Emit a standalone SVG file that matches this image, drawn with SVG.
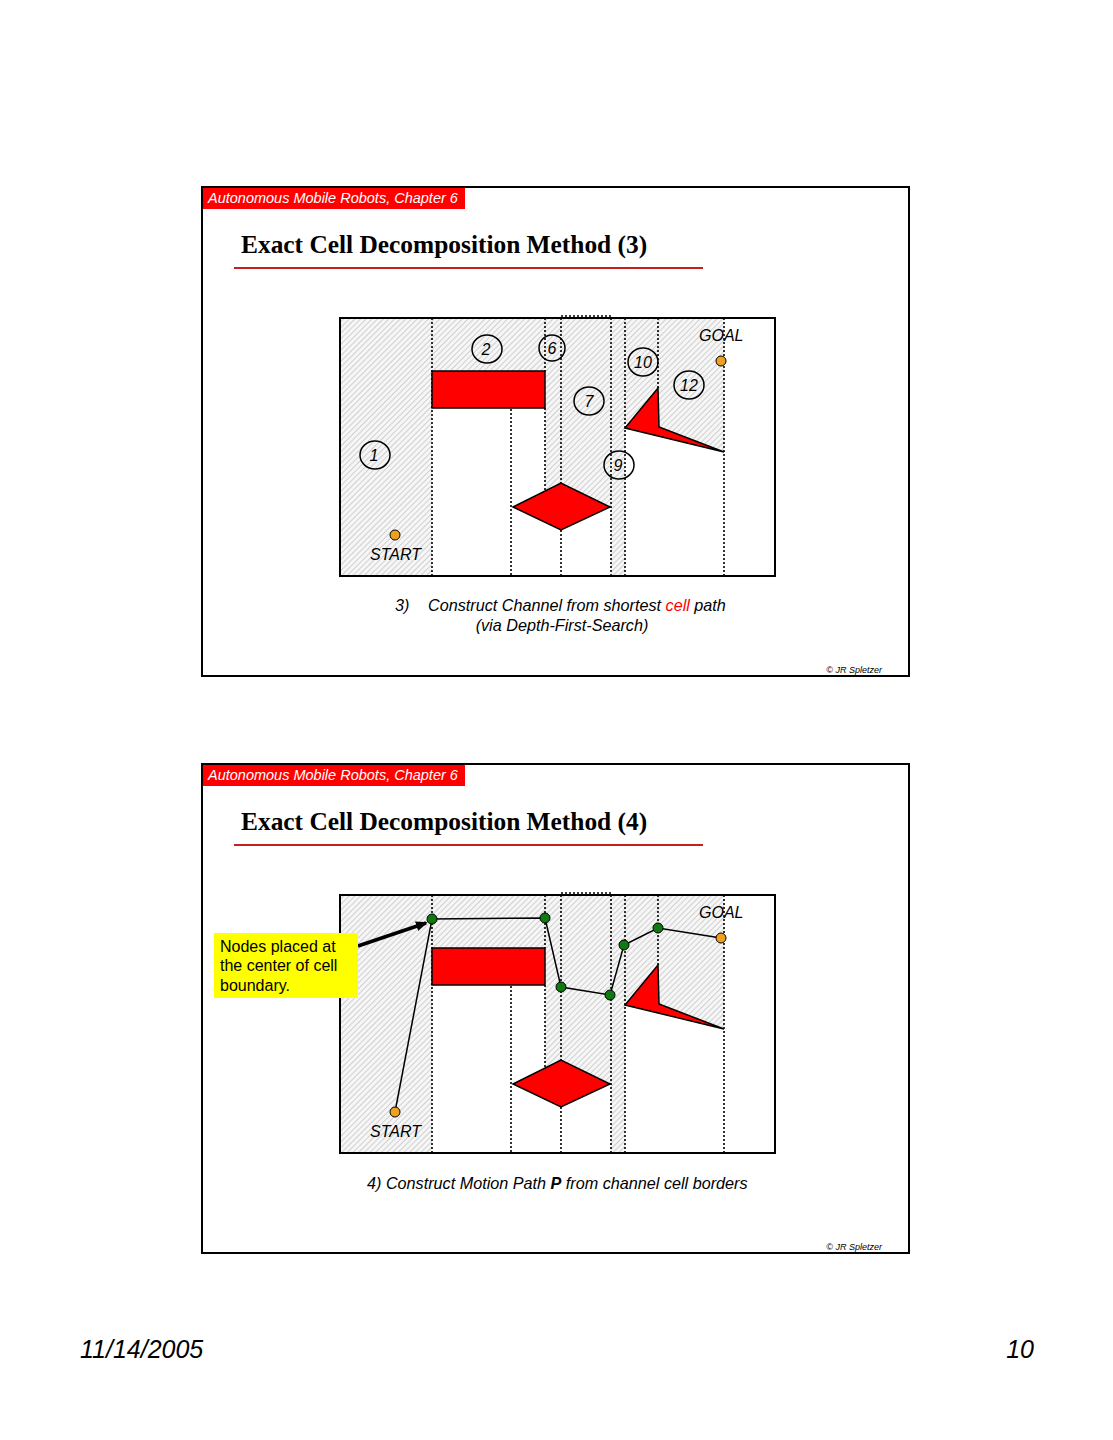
<svg xmlns="http://www.w3.org/2000/svg" xmlns:xlink="http://www.w3.org/1999/xlink" width="1113" height="1440" viewBox="0 0 1113 1440">
<style>
.frame{fill:none;stroke:#000;stroke-width:2}
.hdr{fill:#ff0000}
.hdrt{font-family:"Liberation Sans",Arial,sans-serif;font-style:italic;font-size:14.5px;fill:#fff}
.title{font-family:"Liberation Serif","Times New Roman",serif;font-weight:bold;font-size:25.4px;fill:#000}
.uline{stroke:#c41e1e;stroke-width:2}
.cap{font-family:"Liberation Sans",Arial,sans-serif;font-style:italic;font-size:16.2px;fill:#000}
.copy{font-family:"Liberation Sans",Arial,sans-serif;font-style:italic;font-size:9px;fill:#000}
.hatch{fill:url(#hatch)}
.dot{stroke:#000;stroke-width:1.6;stroke-dasharray:2 2;fill:none}
.obs{fill:#ff0000;stroke:#000;stroke-width:1.5;stroke-linejoin:miter}
.cframe{fill:none;stroke:#000;stroke-width:2}
.lbl{font-family:"Liberation Sans",Arial,sans-serif;font-style:italic;font-size:16px;fill:#000}
.cell{fill:none;stroke:#000;stroke-width:1.5}
.cn{font-family:"Liberation Sans",Arial,sans-serif;font-style:italic;font-size:16px;fill:#000;text-anchor:middle}
.end{fill:#f0a020;stroke:#000;stroke-width:1}
.node{fill:#107a10;stroke:#000;stroke-width:1}
.path{fill:none;stroke:#000;stroke-width:1.5}
.note{font-family:"Liberation Sans",Arial,sans-serif;font-size:16px;fill:#000}
.foot{font-family:"Liberation Sans",Arial,sans-serif;font-style:italic;font-size:25px;fill:#000}
</style>
<defs>
<pattern id="hatch" patternUnits="userSpaceOnUse" width="4" height="4" patternTransform="rotate(45)">
<rect width="4" height="4" fill="#f6f6f6"/>
<line x1="0" y1="0" x2="0" y2="4" stroke="#b0b0b0" stroke-width="1.1"/>
</pattern>
<marker id="arr" markerWidth="12" markerHeight="10" refX="10" refY="5" orient="auto" markerUnits="userSpaceOnUse" viewBox="0 0 12 10">
<path d="M0,0 L12,5 L0,10 z" fill="#000"/>
</marker>
<g id="decomp">
<rect x="340" y="318" width="435" height="258" fill="#fff"/>
<rect class="hatch" x="340" y="318" width="92" height="258"/>
<rect class="hatch" x="432" y="318" width="113" height="53"/>
<polygon class="hatch" points="545,318 611,318 611,507 561,483 545,491"/>
<rect class="hatch" x="611" y="318" width="14" height="258"/>
<polygon class="hatch" points="625,318 724,318 724,452 659,427 658,388 625,428"/>
<g class="dot">
<line x1="432" y1="318" x2="432" y2="576"/>
<line x1="511" y1="409" x2="511" y2="576"/>
<line x1="545" y1="318" x2="545" y2="371"/>
<line x1="545" y1="408" x2="545" y2="491"/>
<line x1="561" y1="318" x2="561" y2="483"/>
<line x1="561" y1="530" x2="561" y2="576"/>
<line x1="611" y1="318" x2="611" y2="576"/>
<line x1="625" y1="318" x2="625" y2="576"/>
<line x1="658" y1="318" x2="658" y2="388"/>
<line x1="724" y1="318" x2="724" y2="576"/>
<line x1="561" y1="316" x2="612" y2="316"/>
</g>
<rect class="obs" x="432" y="371" width="113" height="37"/>
<polygon class="obs" points="513,507 561,483 610,507 561,530"/>
<polygon class="obs" points="658,388 659,427 724,452 625,428"/>
<rect class="cframe" x="340" y="318" width="435" height="258"/>
<text class="lbl" x="370" y="560">START</text>
<text class="lbl" x="699" y="341">GOAL</text>
</g>
</defs>

<g id="slide3">
<rect class="hdr" x="202" y="187" width="263" height="22"/>
<text class="hdrt" x="208" y="203">Autonomous Mobile Robots, Chapter 6</text>
<text class="title" x="241" y="253">Exact Cell Decomposition Method (3)</text>
<line class="uline" x1="234" y1="268" x2="703" y2="268"/>
<use xlink:href="#decomp"/>
<g id="cells3">
<g id="c1"><ellipse class="cell" cx="375" cy="455" rx="15" ry="14"/><text class="cn" x="374" y="461">1</text></g>
<g id="c2"><ellipse class="cell" cx="487" cy="349" rx="15" ry="14"/><text class="cn" x="486" y="355">2</text></g>
<g id="c6"><ellipse class="cell" cx="552" cy="348" rx="13" ry="13"/><text class="cn" x="552" y="354">6</text></g>
<g id="c7"><ellipse class="cell" cx="589" cy="401" rx="15" ry="14"/><text class="cn" x="589" y="407">7</text></g>
<g id="c9"><ellipse class="cell" cx="619" cy="465" rx="15" ry="14"/><text class="cn" x="618" y="471">9</text></g>
<g id="c10"><ellipse class="cell" cx="643" cy="362" rx="15" ry="14"/><text class="cn" x="643" y="368">10</text></g>
<g id="c12"><ellipse class="cell" cx="689" cy="385" rx="15" ry="14"/><text class="cn" x="689" y="391">12</text></g>
</g>
<circle id="start3" class="end" cx="395" cy="535" r="5"/>
<circle id="goal3" class="end" cx="721" cy="361" r="5"/>
<text class="cap" x="395" y="611">3)</text>
<text class="cap" x="428" y="611">Construct Channel from shortest <tspan fill="#ff0000">cell</tspan> path</text>
<text class="cap" x="562" y="631" text-anchor="middle">(via Depth-First-Search)</text>
<text class="copy" x="882" y="673" text-anchor="end">© JR Spletzer</text>
<rect class="frame" x="202" y="187" width="707" height="489"/>
</g>

<g id="slide4">
<rect class="hdr" x="202" y="764" width="263" height="22"/>
<text class="hdrt" x="208" y="780">Autonomous Mobile Robots, Chapter 6</text>
<text class="title" x="241" y="830">Exact Cell Decomposition Method (4)</text>
<line class="uline" x1="234" y1="845" x2="703" y2="845"/>
<use xlink:href="#decomp" y="577"/>
<g id="connectors">
<polyline class="path" points="395,1112 432,919 545,918 561,987 610,995 624,945 658,928 721,938"/>
<line x1="358" y1="946" x2="426" y2="923" stroke="#000" stroke-width="3.5" marker-end="url(#arr)"/>
</g>
<g id="pathnodes">
<circle id="n1" class="node" cx="432" cy="919" r="5"/>
<circle id="n2" class="node" cx="545" cy="918" r="5"/>
<circle id="n3" class="node" cx="561" cy="987" r="5"/>
<circle id="n4" class="node" cx="610" cy="995" r="5"/>
<circle id="n5" class="node" cx="624" cy="945" r="5"/>
<circle id="n6" class="node" cx="658" cy="928" r="5"/>
<circle id="start4" class="end" cx="395" cy="1112" r="5"/>
<circle id="goal4" class="end" cx="721" cy="938" r="5"/>
</g>
<g id="note">
<rect x="214" y="933" width="144" height="65" fill="#ffff00"/>
<text class="note" x="220" y="952">Nodes placed at</text>
<text class="note" x="220" y="971">the center of cell</text>
<text class="note" x="220" y="991">boundary.</text>
</g>
<text class="cap" x="367" y="1189">4)  Construct Motion Path <tspan font-weight="bold">P</tspan> from channel cell borders</text>
<text class="copy" x="882" y="1250" text-anchor="end">© JR Spletzer</text>
<rect class="frame" x="202" y="764" width="707" height="489"/>
</g>

<text class="foot" x="80" y="1358">11/14/2005</text>
<text class="foot" x="1034" y="1358" text-anchor="end">10</text>
</svg>
